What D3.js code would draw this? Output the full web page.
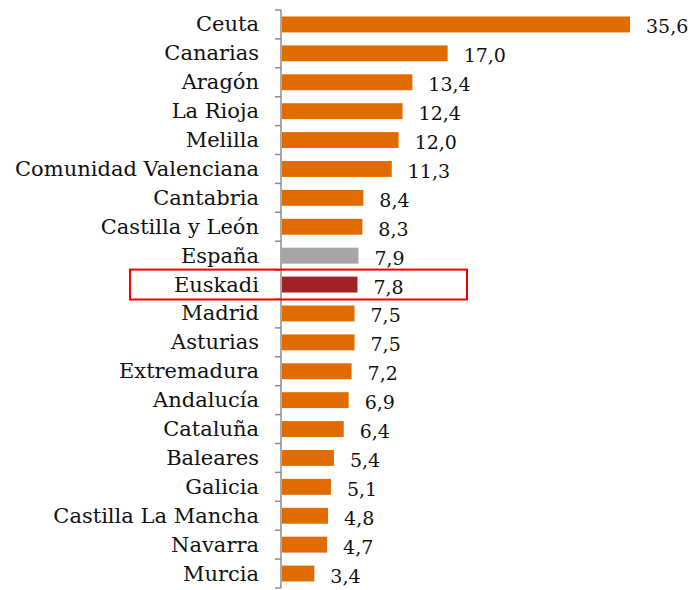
<!DOCTYPE html>
<html>
<head>
<meta charset="utf-8">
<script src="https://cdn.jsdelivr.net/npm/d3@7"></script>
<style>
  body { margin: 0; background: #fff; }
  text { font-family: "DejaVu Serif", "Liberation Serif", serif; fill: #111; }
</style>
</head>
<body>
<svg></svg>
<script>
var width = 695, height = 590;

// datos
var regiones = ["Ceuta", "Canarias", "Aragón", "La Rioja", "Melilla", "Comunidad Valenciana",
  "Cantabria", "Castilla y León", "España", "Euskadi", "Madrid", "Asturias", "Extremadura",
  "Andalucía", "Cataluña", "Baleares", "Galicia", "Castilla La Mancha", "Navarra", "Murcia"];
var valores = [35.6, 17.0, 13.4, 12.4, 12.0, 11.3, 8.4, 8.3, 7.9, 7.8, 7.5, 7.5, 7.2,
  6.9, 6.4, 5.4, 5.1, 4.8, 4.7, 3.4];
var destacado = "Euskadi";
var total = "España";

var data = regiones.map(function(d, i) { return { region: d, valor: valores[i] }; });

var svg = d3.select("svg").attr("width", width).attr("height", height);

var x0 = 281;
var x = d3.scaleLinear().domain([0, 35.6]).range([x0, 630]);
var y = d3.scaleBand().domain(regiones).range([10, 588]).paddingInner(0.45).paddingOuter(0.225);

function color(d) {
  if (d.region == destacado) return "#A12125";
  if (d.region == total) return "#A6A6A6";
  return "#E06C00";
}

// barras
svg.append("g")
  .selectAll("rect")
  .data(data)
  .enter().append("rect")
  .attr("x", x0 + 1)
  .attr("y", function(d) { return y(d.region); })
  .attr("width", function(d) { return x(d.valor) - x0 - 1; })
  .attr("height", y.bandwidth())
  .attr("fill", color);

// eje vertical con marcas entre categorías
var step = y.step();
var eje = svg.append("g").attr("class", "axis");
eje.append("line")
  .attr("x1", x0).attr("x2", x0)
  .attr("y1", 10).attr("y2", 588)
  .attr("stroke", "#8c8c8c").attr("stroke-width", 1.5);
eje.selectAll("line.tick")
  .data(d3.range(regiones.length + 1))
  .enter().append("line")
  .attr("class", "tick")
  .attr("x1", x0 - 6).attr("x2", x0)
  .attr("y1", function(i) { return 10 + i * step; })
  .attr("y2", function(i) { return 10 + i * step; })
  .attr("stroke", "#8c8c8c").attr("stroke-width", 1.5);

// nombres
svg.append("g")
  .selectAll("text")
  .data(data)
  .enter().append("text")
  .attr("x", 259)
  .attr("y", function(d) { return y(d.region) + y.bandwidth() / 2 + 7; })
  .attr("text-anchor", "end")
  .style("font-size", "21px")
  .text(function(d) { return d.region; });

// valores
svg.append("g")
  .selectAll("text")
  .data(data)
  .enter().append("text")
  .attr("x", function(d) { return x(d.valor) + 16; })
  .attr("y", function(d) { return y(d.region) + y.bandwidth() / 2 + 9; })
  .style("font-size", "19px")
  .text(function(d) { return d3.format(".1f")(d.valor).replace(".", ","); });

// recuadro Euskadi
svg.append("rect")
  .attr("x", 130)
  .attr("y", y(destacado) - (y.step() - y.bandwidth()) / 2 - 0.5)
  .attr("width", 337)
  .attr("height", y.step() + 1)
  .attr("fill", "none")
  .attr("stroke", "#F00000")
  .attr("stroke-width", 2);
</script>
</body>
</html>
